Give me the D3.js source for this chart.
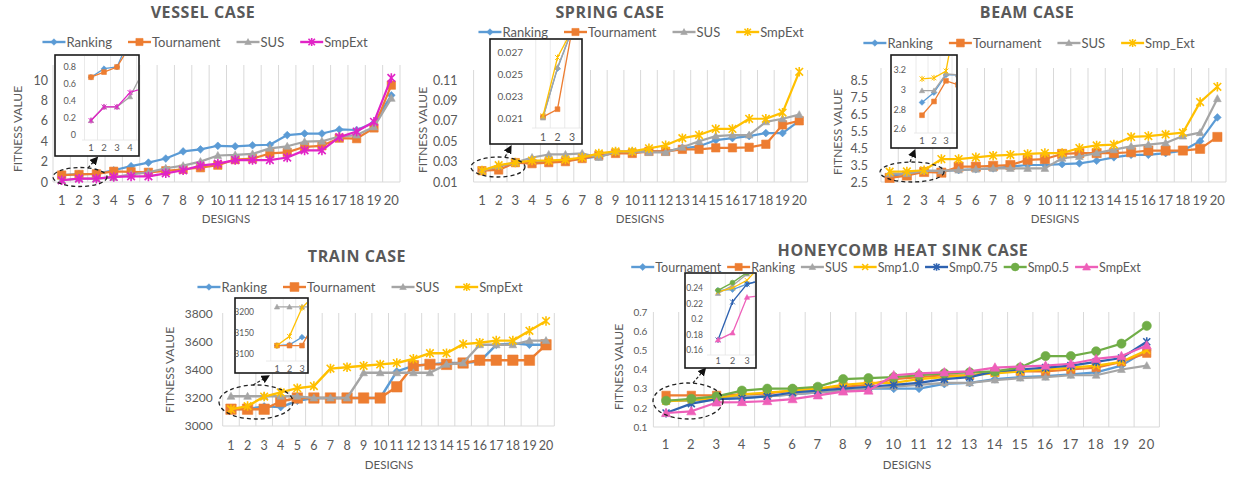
<!DOCTYPE html>
<html>
<head>
<meta charset="utf-8">
<script src="https://cdn.jsdelivr.net/npm/d3@7"></script>
<style>
  html, body { margin: 0; padding: 0; background: #fff; }
  svg { display: block; }
</style>
</head>
<body>
<svg id="chart" width="1236" height="478"></svg>
<script>
// ---------- data ----------
const designs = d3.range(1, 21);

// Vessel case
const vesselRanking    = [0.68, 0.78, 0.80, 1.15, 1.55, 1.90, 2.30, 3.00, 3.20, 3.55, 3.50, 3.60, 3.65, 4.60, 4.75, 4.75, 5.15, 5.10, 5.80, 8.50];
const vesselTournament = [0.68, 0.74, 0.80, 1.05, 1.00, 0.95, 1.10, 1.25, 1.40, 1.65, 2.20, 2.30, 2.80, 2.90, 3.45, 3.55, 4.30, 4.25, 5.30, 9.50];
const vesselSUS        = [0.17, 0.33, 0.33, 0.45, 0.75, 0.95, 1.35, 1.60, 2.00, 2.60, 2.65, 2.75, 3.30, 3.50, 3.95, 4.00, 4.45, 4.60, 5.40, 8.20];
const vesselSmpExt     = [0.17, 0.33, 0.33, 0.50, 0.55, 0.55, 0.85, 1.15, 1.60, 1.80, 2.15, 2.15, 2.15, 2.40, 3.10, 3.10, 4.40, 4.95, 5.90, 10.2];
const vesselTicks      = [0, 2, 4, 6, 8, 10];
const vesselInsetTicks = [0, 0.2, 0.4, 0.6, 0.8];

// Spring case
const springRanking    = [0.0211, 0.0255, 0.029, 0.029, 0.030, 0.031, 0.033, 0.035, 0.039, 0.040, 0.040, 0.040, 0.043, 0.045, 0.051, 0.053, 0.055, 0.058, 0.058, 0.070];
const springTournament = [0.0211, 0.0218, 0.029, 0.028, 0.029, 0.030, 0.033, 0.036, 0.038, 0.038, 0.040, 0.040, 0.042, 0.042, 0.0435, 0.0435, 0.044, 0.047, 0.066, 0.070];
const springSUS        = [0.0210, 0.0256, 0.029, 0.034, 0.037, 0.037, 0.038, 0.034, 0.040, 0.040, 0.039, 0.039, 0.044, 0.050, 0.055, 0.056, 0.056, 0.069, 0.072, 0.076];
const springSmpExt     = [0.0212, 0.0265, 0.029, 0.031, 0.031, 0.032, 0.034, 0.038, 0.040, 0.040, 0.043, 0.046, 0.053, 0.056, 0.062, 0.062, 0.072, 0.072, 0.078, 0.118];
const springTicks      = [0.01, 0.03, 0.05, 0.07, 0.09, 0.11];
const springInsetTicks = [0.021, 0.023, 0.025, 0.027];

// Beam case
const beamRanking    = [2.87, 2.97, 3.15, 3.15, 3.20, 3.25, 3.30, 3.40, 3.50, 3.50, 3.55, 3.60, 3.75, 3.95, 4.10, 4.10, 4.20, 4.35, 4.90, 6.30];
const beamTournament = [2.74, 2.88, 3.09, 3.05, 3.40, 3.40, 3.45, 3.50, 3.80, 3.85, 4.15, 4.20, 4.20, 4.20, 4.25, 4.35, 4.35, 4.35, 4.45, 5.15];
const beamSUS        = [2.99, 2.99, 3.16, 3.15, 3.20, 3.25, 3.30, 3.30, 3.30, 3.30, 3.90, 4.00, 4.20, 4.40, 4.60, 4.70, 4.80, 5.20, 5.40, 7.40];
const beamSmpExt     = [3.11, 3.12, 3.19, 3.85, 3.85, 3.95, 4.05, 4.10, 4.15, 4.20, 4.20, 4.50, 4.65, 4.70, 5.15, 5.20, 5.30, 5.40, 7.20, 8.10];
const beamTicks      = [2.5, 3.5, 4.5, 5.5, 6.5, 7.5, 8.5];
const beamInsetTicks = [2.6, 2.8, 3, 3.2];

// Train case
const trainRanking    = [3120, 3122, 3140, 3135, 3180, 3200, 3200, 3200, 3200, 3200, 3390, 3430, 3440, 3450, 3450, 3460, 3580, 3590, 3580, 3580];
const trainTournament = [3120, 3120, 3120, 3175, 3200, 3200, 3200, 3200, 3200, 3200, 3280, 3430, 3440, 3440, 3450, 3470, 3470, 3470, 3470, 3580];
const trainSUS        = [3212, 3212, 3212, 3212, 3212, 3200, 3200, 3200, 3380, 3380, 3380, 3380, 3380, 3440, 3450, 3580, 3580, 3580, 3610, 3610];
const trainSmpExt     = [3120, 3142, 3210, 3240, 3270, 3285, 3410, 3420, 3430, 3440, 3450, 3480, 3520, 3520, 3585, 3595, 3610, 3610, 3680, 3750];
const trainTicks      = [3000, 3200, 3400, 3600, 3800];
const trainInsetTicks = [3100, 3150, 3200];

// Honeycomb heat sink case
const honeyTournament = [0.237, 0.238, 0.245, 0.250, 0.260, 0.270, 0.280, 0.290, 0.300, 0.300, 0.300, 0.325, 0.330, 0.350, 0.360, 0.365, 0.375, 0.385, 0.420, 0.500];
const honeyRanking    = [0.265, 0.265, 0.265, 0.270, 0.275, 0.290, 0.300, 0.310, 0.320, 0.350, 0.360, 0.370, 0.370, 0.385, 0.390, 0.390, 0.400, 0.410, 0.440, 0.485];
const honeySUS        = [0.233, 0.243, 0.258, 0.260, 0.260, 0.270, 0.280, 0.290, 0.300, 0.310, 0.320, 0.330, 0.330, 0.345, 0.355, 0.360, 0.370, 0.370, 0.400, 0.420];
const honeySmp10      = [0.235, 0.240, 0.250, 0.270, 0.280, 0.290, 0.300, 0.320, 0.330, 0.330, 0.350, 0.360, 0.370, 0.380, 0.390, 0.400, 0.410, 0.420, 0.440, 0.500];
const honeySmp075     = [0.173, 0.222, 0.245, 0.250, 0.260, 0.280, 0.290, 0.300, 0.310, 0.320, 0.330, 0.350, 0.360, 0.390, 0.400, 0.410, 0.420, 0.440, 0.460, 0.545];
const honeySmp05      = [0.237, 0.247, 0.260, 0.290, 0.300, 0.300, 0.310, 0.350, 0.355, 0.360, 0.370, 0.380, 0.385, 0.390, 0.410, 0.470, 0.470, 0.495, 0.535, 0.628];
const honeySmpExt     = [0.173, 0.182, 0.228, 0.230, 0.235, 0.245, 0.265, 0.285, 0.290, 0.370, 0.380, 0.385, 0.390, 0.410, 0.415, 0.420, 0.430, 0.455, 0.470, 0.525];
const honeyTicks      = [0.1, 0.2, 0.3, 0.4, 0.5, 0.6, 0.7];
const honeyInsetTicks = [0.16, 0.18, 0.2, 0.22, 0.24];

// ---------- styling ----------
const FONT = "Lato, 'Open Sans', sans-serif";
const TXT = '#595959';
const GRID = '#D9D9D9';
const C = {
  blue: '#5B9BD5', orange: '#ED7D31', gray: '#A5A5A5', yellow: '#FFC000',
  magenta: '#E124C6', navy: '#2E62B0', green: '#70AD47', pink: '#EE5FB9'
};

const svg = d3.select('#chart');
const defs = svg.append('defs');
defs.append('marker').attr('id', 'arrowHead')
  .attr('viewBox', '0 0 10 10').attr('refX', 6).attr('refY', 5)
  .attr('markerWidth', 7).attr('markerHeight', 7).attr('orient', 'auto-start-reverse')
  .append('path').attr('d', 'M0,0L10,5L0,10Z').attr('fill', '#111');

function markerShape(type, s) {
  switch (type) {
    case 'diamond':  return `M0,${-s * 1.2}L${s * 1.2},0L0,${s * 1.2}L${-s * 1.2},0Z`;
    case 'square':   return `M${-s},${-s}H${s}V${s}H${-s}Z`;
    case 'triangle': return `M0,${-s * 1.15}L${s * 1.1},${s * 0.85}L${-s * 1.1},${s * 0.85}Z`;
    case 'circle':   return d3.symbol(d3.symbolCircle, Math.PI * s * s)();
    case 'star':     return `M${-s},${-s}L${s},${s}M${s},${-s}L${-s},${s}M0,${-s * 1.25}V${s * 1.25}`;
    case 'cross':    return `M${-s},${-s}L${s},${s}M${s},${-s}L${-s},${s}`;
  }
}
function styleMarker(sel, type, color, sw) {
  if (type === 'star' || type === 'cross') {
    sel.attr('fill', 'none').attr('stroke', color).attr('stroke-width', sw || 1.6);
  } else {
    sel.attr('fill', color).attr('stroke', color).attr('stroke-width', 0.6);
  }
}

function drawLegend(g, series, cx, cy, gap, font, lineLen) {
  const lg = g.append('g').attr('font-family', FONT).attr('font-size', font).attr('fill', TXT);
  let xPos = 0;
  series.forEach(s => {
    const it = lg.append('g').attr('transform', `translate(${xPos},0)`);
    it.append('line').attr('x1', 0).attr('x2', lineLen).attr('y1', 0).attr('y2', 0)
      .attr('stroke', s.color).attr('stroke-width', 2.4);
    it.append('path').attr('d', markerShape(s.marker, s.size * 0.85))
      .attr('transform', `translate(${lineLen / 2},0)`).call(styleMarker, s.marker, s.color);
    const t = it.append('text').attr('x', lineLen + 1).attr('y', font * 0.36).text(s.name);
    xPos += lineLen + 1 + t.node().getComputedTextLength() + gap;
  });
  const total = xPos - gap;
  lg.attr('transform', `translate(${cx - total / 2},${cy})`);
}

function drawPanel(p) {
  const g = svg.append('g');
  const x = d3.scaleBand().domain(designs).range([p.x0, p.x1]);
  const cx = d => x(d) + x.bandwidth() / 2;
  const y = d3.scaleLinear().domain(p.yDomain).range([p.yBottom, p.yTop]);

  // vertical gridlines on category boundaries
  const edges = designs.map(d => x(d)).concat(p.x1);
  g.append('g').selectAll('line').data(edges).join('line')
    .attr('x1', d => d).attr('x2', d => d)
    .attr('y1', p.gridTop).attr('y2', p.yBottom)
    .attr('stroke', GRID).attr('stroke-width', 1);
  g.append('line').attr('x1', p.x0).attr('x2', p.x1)
    .attr('y1', p.yBottom).attr('y2', p.yBottom).attr('stroke', GRID).attr('stroke-width', 1);

  // value axis
  const ya = g.append('g').attr('transform', `translate(${p.x0},0)`)
    .call(d3.axisLeft(y).tickValues(p.yTicks).tickFormat(d => String(d)).tickSize(0).tickPadding(p.yPad));
  ya.select('.domain').remove();
  ya.attr('font-family', FONT).attr('font-size', p.yFont);
  ya.selectAll('text').attr('fill', TXT);

  // category axis
  const xa = g.append('g').attr('transform', `translate(0,${p.yBottom})`)
    .call(d3.axisBottom(x).tickSize(0).tickPadding(p.xLabelBase - p.yBottom - 0.71 * p.xFont));
  xa.select('.domain').remove();
  xa.attr('font-family', FONT).attr('font-size', p.xFont);
  xa.selectAll('text').attr('fill', TXT).attr('letter-spacing', p.xSpacing || 0);

  // series
  const line = d3.line().x((d, i) => cx(designs[i])).y(d => y(d));
  p.series.forEach(s => {
    g.append('path').datum(s.values).attr('d', line)
      .attr('fill', 'none').attr('stroke', s.color).attr('stroke-width', p.lineWidth)
      .attr('stroke-linejoin', 'round');
    g.append('g').selectAll('path').data(s.values).join('path')
      .attr('d', markerShape(s.marker, s.size))
      .attr('transform', (d, i) => `translate(${cx(designs[i])},${y(d)})`)
      .call(styleMarker, s.marker, s.color);
  });

  // titles
  g.append('text').attr('x', p.titleX).attr('y', p.titleY).attr('text-anchor', 'middle')
    .attr('font-family', "'Open Sans', Lato, sans-serif").attr('font-weight', 700)
    .attr('font-size', p.titleFont || 16).attr('fill', TXT).attr('letter-spacing', 0.6).text(p.title);
  g.append('text').attr('transform', `translate(${p.yTitleX},${p.yTitleY}) rotate(-90)`)
    .attr('text-anchor', 'middle').attr('font-family', FONT).attr('font-size', 12)
    .attr('fill', TXT).attr('dy', '0.35em').text('FITNESS VALUE');
  g.append('text').attr('x', p.xTitleX).attr('y', p.xTitleY).attr('text-anchor', 'middle')
    .attr('font-family', FONT).attr('font-size', 11.5).attr('fill', TXT).attr('dy', '0.35em').text('DESIGNS');

  drawLegend(g, p.series, p.legendX, p.legendY, p.legendGap, p.legendFont || 13, p.legendLine || 23);

  if (p.inset) drawInset(p, p.inset);
}

let clipCount = 0;
function drawInset(p, ins) {
  const g = svg.append('g');
  // dashed ring round the first designs and the pointer to the zoomed box
  g.append('ellipse').attr('cx', ins.ring[0]).attr('cy', ins.ring[1])
    .attr('rx', ins.ring[2]).attr('ry', ins.ring[3])
    .attr('fill', 'none').attr('stroke', '#222').attr('stroke-width', 1.3).attr('stroke-dasharray', '4,3');
  g.append('line').attr('x1', ins.arrow[0]).attr('y1', ins.arrow[1])
    .attr('x2', ins.arrow[2]).attr('y2', ins.arrow[3])
    .attr('stroke', '#222').attr('stroke-width', 1.2).attr('stroke-dasharray', '3,2')
    .attr('marker-end', 'url(#arrowHead)');

  const b = ins.box;
  g.append('rect').attr('x', b[0]).attr('y', b[1]).attr('width', b[2]).attr('height', b[3])
    .attr('fill', '#fff').attr('stroke', '#1a1a1a').attr('stroke-width', 1.6);

  const x = d3.scaleLinear().domain([1, 2]).range([ins.x1, ins.x1 + ins.step]);
  const y = d3.scaleLinear().domain(ins.yDomain).range(ins.yRange);
  const right = b[0] + b[2] - 1, top = b[1] + 1;

  // faint gridlines
  const edgeIdx = d3.range(ins.n + 1).map(i => i + 0.5);
  g.append('g').selectAll('line').data(edgeIdx).join('line')
    .attr('x1', d => x(d)).attr('x2', d => x(d)).attr('y1', top).attr('y2', ins.plotBottom)
    .attr('stroke', '#E4E4E4').attr('stroke-width', 0.8)
    .filter(d => x(d) > right || x(d) < ins.plotLeft).remove();
  g.append('line').attr('x1', ins.plotLeft).attr('x2', right)
    .attr('y1', ins.plotBottom).attr('y2', ins.plotBottom).attr('stroke', '#E4E4E4').attr('stroke-width', 0.8);

  const ya = g.append('g').attr('transform', `translate(${ins.labelRight},0)`)
    .call(d3.axisLeft(y).tickValues(ins.ticks).tickFormat(d => String(d)).tickSize(0).tickPadding(0));
  ya.select('.domain').remove();
  ya.attr('font-family', FONT).attr('font-size', ins.font);
  ya.selectAll('text').attr('fill', TXT);

  const idx = d3.range(1, ins.n + 1);
  g.append('g').attr('font-family', FONT).attr('font-size', ins.font + 0.5).attr('fill', TXT)
    .selectAll('text').data(idx).join('text')
    .attr('x', d => x(d)).attr('y', ins.xLabelBase).attr('text-anchor', 'middle').text(d => d);

  const id = 'insetClip' + (clipCount++);
  svg.select('defs').append('clipPath').attr('id', id).append('rect')
    .attr('x', ins.plotLeft).attr('y', top).attr('width', right - ins.plotLeft).attr('height', ins.plotBottom - top);
  const pg = g.append('g').attr('clip-path', `url(#${id})`);
  const span = ins.n + 2;
  const line = d3.line().x((d, i) => x(i + 1)).y(d => y(d));
  p.series.forEach(s => {
    const vals = s.values.slice(0, span);
    pg.append('path').datum(vals).attr('d', line)
      .attr('fill', 'none').attr('stroke', s.color).attr('stroke-width', 1.3);
    pg.append('g').selectAll('path').data(vals).join('path')
      .attr('d', markerShape(s.marker, 2.4))
      .attr('transform', (d, i) => `translate(${x(i + 1)},${y(d)})`)
      .call(styleMarker, s.marker, s.color, 1);
  });
}

// ---------- panels ----------
drawPanel({
  title: 'VESSEL CASE', titleX: 203, titleY: 18,
  x0: 53, x1: 400, yBottom: 182, yTop: 80, gridTop: 65, yDomain: [0, 10], yTicks: vesselTicks,
  yPad: 5, yFont: 12.5, xFont: 13, xLabelBase: 205, lineWidth: 2.2,
  yTitleX: 18, yTitleY: 129, xTitleX: 226, xTitleY: 219,
  legendX: 205, legendY: 42, legendGap: 16,
  series: [
    { name: 'Ranking',    values: vesselRanking,    color: C.blue,    marker: 'diamond',  size: 3.2 },
    { name: 'Tournament', values: vesselTournament, color: C.orange,  marker: 'square',   size: 4.2 },
    { name: 'SUS',        values: vesselSUS,        color: C.gray,    marker: 'triangle', size: 3.5 },
    { name: 'SmpExt',     values: vesselSmpExt,     color: C.magenta, marker: 'star',     size: 3.8 }
  ],
  inset: {
    box: [55, 55, 84, 101], plotLeft: 82, plotBottom: 140, x1: 91, step: 13, n: 4,
    yDomain: [0, 0.8], yRange: [135, 67], ticks: vesselInsetTicks, labelRight: 76, xLabelBase: 151, font: 9,
    ring: [80, 177, 27, 9.5], arrow: [88, 168, 96, 159]
  }
});

drawPanel({
  title: 'SPRING CASE', titleX: 610, titleY: 18,
  x0: 473.6, x1: 807.6, yBottom: 182, yTop: 80, gridTop: 70, yDomain: [0.01, 0.11], yTicks: springTicks,
  yPad: 16, yFont: 12.5, xFont: 13, xLabelBase: 205, lineWidth: 2.2,
  yTitleX: 423, yTitleY: 130, xTitleX: 640, xTitleY: 219,
  legendX: 641, legendY: 32, legendGap: 16,
  series: [
    { name: 'Ranking',    values: springRanking,    color: C.blue,   marker: 'diamond',  size: 3.2 },
    { name: 'Tournament', values: springTournament, color: C.orange, marker: 'square',   size: 4.2 },
    { name: 'SUS',        values: springSUS,        color: C.gray,   marker: 'triangle', size: 3.5 },
    { name: 'SmpExt',     values: springSmpExt,     color: C.yellow, marker: 'star',     size: 3.8 }
  ],
  inset: {
    box: [490, 39, 92, 105], plotLeft: 532, plotBottom: 128, x1: 543, step: 14.5, n: 3,
    yDomain: [0.021, 0.027], yRange: [118, 52], ticks: springInsetTicks, labelRight: 523, xLabelBase: 141, font: 10,
    ring: [498, 167, 27, 10], arrow: [505, 157, 510, 148]
  }
});

drawPanel({
  title: 'BEAM CASE', titleX: 1027, titleY: 18,
  x0: 881, x1: 1226, yBottom: 182, yTop: 80, gridTop: 68, yDomain: [2.5, 8.5], yTicks: beamTicks,
  yPad: 13, yFont: 12.5, xFont: 13, xLabelBase: 205, lineWidth: 2.2,
  yTitleX: 838, yTitleY: 132, xTitleX: 1055, xTitleY: 219,
  legendX: 1029, legendY: 43, legendGap: 16,
  series: [
    { name: 'Ranking',    values: beamRanking,    color: C.blue,   marker: 'diamond',  size: 3.2 },
    { name: 'Tournament', values: beamTournament, color: C.orange, marker: 'square',   size: 4.6 },
    { name: 'SUS',        values: beamSUS,        color: C.gray,   marker: 'triangle', size: 3.5 },
    { name: 'Smp_Ext',    values: beamSmpExt,     color: C.yellow, marker: 'star',     size: 3.8 }
  ],
  inset: {
    box: [891, 55, 66, 93], plotLeft: 914, plotBottom: 133, x1: 922, step: 12, n: 3,
    yDomain: [2.6, 3.2], yRange: [129, 70], ticks: beamInsetTicks, labelRight: 906, xLabelBase: 144, font: 9,
    ring: [912, 172, 32, 10], arrow: [910, 162, 914, 152]
  }
});

drawPanel({
  title: 'TRAIN CASE', titleX: 357, titleY: 262,
  x0: 222.7, x1: 554.3, yBottom: 426, yTop: 314, gridTop: 313, yDomain: [3000, 3800], yTicks: trainTicks,
  yPad: 10, yFont: 12, xFont: 12.5, xLabelBase: 450, lineWidth: 2.4,
  yTitleX: 170, yTitleY: 370, xTitleX: 389, xTitleY: 465,
  legendX: 360, legendY: 287, legendGap: 16,
  series: [
    { name: 'Ranking',    values: trainRanking,    color: C.blue,   marker: 'diamond',  size: 3.2 },
    { name: 'Tournament', values: trainTournament, color: C.orange, marker: 'square',   size: 5.2 },
    { name: 'SUS',        values: trainSUS,        color: C.gray,   marker: 'triangle', size: 3.5 },
    { name: 'SmpExt',     values: trainSmpExt,     color: C.yellow, marker: 'star',     size: 3.8 }
  ],
  inset: {
    box: [235, 298, 73, 75], plotLeft: 266, plotBottom: 361, x1: 277, step: 12.5, n: 3,
    yDomain: [3100, 3200], yRange: [354, 312], ticks: trainInsetTicks, labelRight: 254, xLabelBase: 372, font: 8.5,
    ring: [256, 402, 37, 17], arrow: [253, 385, 267, 377]
  }
});

drawPanel({
  title: 'HONEYCOMB HEAT SINK CASE', titleX: 903, titleY: 256,
  x0: 653.4, x1: 1159.4, yBottom: 427, yTop: 312, gridTop: 312, yDomain: [0.1, 0.7], yTicks: honeyTicks,
  yPad: 6, yFont: 10, xFont: 13, xLabelBase: 449, xSpacing: 1, lineWidth: 2.2,
  yTitleX: 619, yTitleY: 367, xTitleX: 907, xTitleY: 465,
  legendX: 886, legendY: 267, legendGap: 6, legendFont: 12.5, legendLine: 23,
  series: [
    { name: 'Tournament', values: honeyTournament, color: C.blue,   marker: 'diamond',  size: 3.4 },
    { name: 'Ranking',    values: honeyRanking,    color: C.orange, marker: 'square',   size: 4.2 },
    { name: 'SUS',        values: honeySUS,        color: C.gray,   marker: 'triangle', size: 3.5 },
    { name: 'Smp1.0',     values: honeySmp10,      color: C.yellow, marker: 'cross',    size: 3.5 },
    { name: 'Smp0.75',    values: honeySmp075,     color: C.navy,   marker: 'star',     size: 3.5 },
    { name: 'Smp0.5',     values: honeySmp05,      color: C.green,  marker: 'circle',   size: 4.6 },
    { name: 'SmpExt',     values: honeySmpExt,     color: C.pink,   marker: 'triangle', size: 4.2 }
  ],
  inset: {
    box: [685, 273, 71, 95], plotLeft: 707, plotBottom: 355, x1: 718, step: 14.5, n: 3,
    yDomain: [0.16, 0.24], yRange: [350, 288], ticks: honeyInsetTicks, labelRight: 703, xLabelBase: 364, font: 8.5,
    ring: [688, 401, 35, 18], arrow: [693, 383, 704, 370]
  }
});
</script>
</body>
</html>
